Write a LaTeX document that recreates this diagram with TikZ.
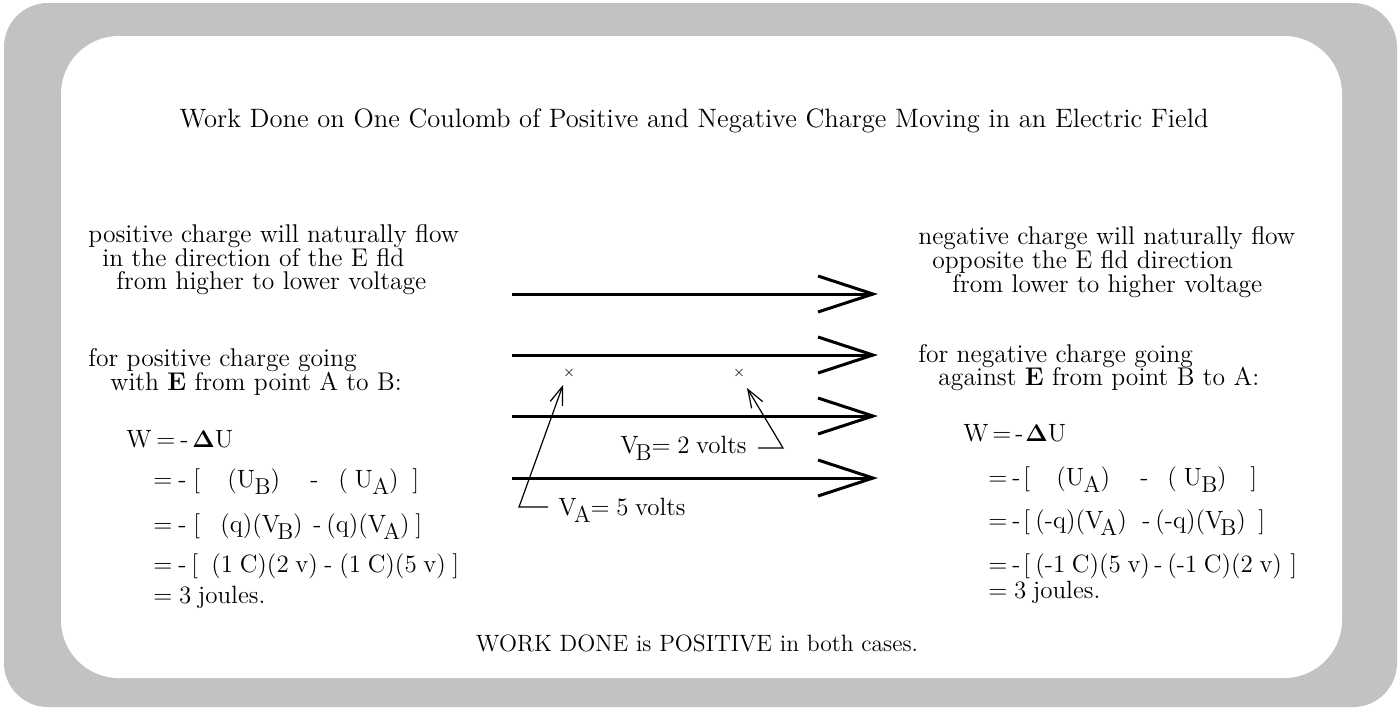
\documentclass[tikz,border=0pt]{standalone}
\usetikzlibrary{arrows.meta,calc}
\newcommand{\lw}[1]{\kern-0.3pt\raisebox{-0.3em}{\fontsize{11.5}{10}\selectfont #1}}
\newcommand{\lv}[1]{\kern-1.5pt\raisebox{-0.3em}{\fontsize{11.5}{10}\selectfont #1}}
\newcommand{\atp}[2]{\makebox[0pt][l]{\hspace*{#1pt}#2}}
\newcommand{\eqfont}{\fontsize{12.5}{11}\selectfont\spaceskip=3.3pt plus 1pt minus 1pt\relax}
\begin{document}
\begin{tikzpicture}[x=0.5pt,y=-0.5pt,
  txt/.style={font=\fontsize{12.8}{11}\selectfont, inner sep=0pt, anchor=base west, text height=8pt, text depth=1.5pt},
  ctxt/.style={txt, anchor=base},
  eq/.style={txt, font=\eqfont},
  fieldline/.style={line width=1.5pt},
  ptr/.style={line width=0.6pt, -{Straight Barb[length=9pt,width=6.5pt]}},
  xmark/.style={font=\fontsize{7}{7}\selectfont, inner sep=0pt},
]
\useasboundingbox (0,0) rectangle (1400,709);
% frame
\fill[black!24, rounded corners=22pt] (4,3) rectangle (1397,707);
\fill[white, rounded corners=29pt] (61,36) rectangle (1342,678);

% title
\node[ctxt, font=\fontsize{13.3}{11}\selectfont] (title) at (694,127) {Work Done on One Coulomb of Positive and Negative Charge Moving in an Electric Field};

% left texts
\node[txt] (p1) at (88,242) {positive charge will naturally flow};
\node[txt] (p2) at (102,266) {in the direction of the E fld};
\node[txt] (p3) at (116,289) {from higher to lower voltage};
\node[txt] (p4) at (88,366) {for positive charge going};
\node[txt] (p5) at (110,390) {with \textbf{E} from point A to B:};

% right texts
\node[txt] (n1) at (918,244) {negative charge will naturally flow};
\node[txt] (n2) at (932,268) {opposite the E fld direction};
\node[txt] (n3) at (952,292) {from lower to higher voltage};
\node[txt] (n4) at (918,362) {for negative charge going};
\node[txt] (n5) at (938,385) {against \textbf{E} from point B to A:};

% left equations
\node[eq] (le1) at (126,447) {\atp{0}{W}\atp{15}{=}\atp{27}{-}\atp{33}{$\mathbf{\Delta}$U}\hspace*{49pt}};
\node[eq] (le2) at (153,487) {\atp{0}{=}\atp{12.5}{-}\atp{20}{[}\atp{37}{(U\lw{B})}\atp{78.5}{-}\atp{92.5}{( U\lw{A})}\atp{129.5}{]}\hspace*{133pt}};
\node[eq] (le3) at (153,532) {\atp{0}{=}\atp{12.5}{-}\atp{20}{[}\atp{33.5}{(q)(V\lv{B})}\atp{80}{-}\atp{86.5}{(q)(V\lv{A})}\atp{131}{]}\hspace*{134pt}};
\node[eq] (le4) at (153,572) {\atp{0}{=}\atp{12.5}{-}\atp{19}{[}\atp{29}{(1 C)(2 v)}\atp{85.5}{-}\atp{93}{(1 C)(5 v)}\atp{149.5}{]}\hspace*{152pt}};
\node[eq] (le5) at (153,603) {= 3 joules.};

% right equations
\node[eq] (re1) at (963,441) {\atp{0}{W}\atp{14.5}{=}\atp{26}{-}\atp{31}{$\mathbf{\Delta}$U}\hspace*{48pt}};
\node[eq] (re2) at (988,485) {\atp{0}{=}\atp{12}{-}\atp{17.5}{[}\atp{34}{(U\lw{A})}\atp{76}{-}\atp{89.5}{( U\lw{B})}\atp{131}{]}\hspace*{134pt}};
\node[eq] (re3) at (988,528) {\atp{0}{=}\atp{12}{-}\atp{17.5}{[}\atp{23.5}{(-q)(V\lv{A})}\atp{77}{-}\atp{83.5}{(-q)(V\lv{B})}\atp{135}{]}\hspace*{138pt}};
\node[eq] (re4) at (988,572) {\atp{0}{=}\atp{12}{-}\atp{17.5}{[}\atp{23.5}{(-1 C)(5 v)}\atp{83}{-}\atp{89.5}{(-1 C)(2 v)}\atp{151}{]}\hspace*{154pt}};
\node[eq] (re5) at (988,598) {= 3 joules.};

% bottom
\node[ctxt, font=\fontsize{11.8}{11}\selectfont] (bottom) at (697,651) {WORK DONE is POSITIVE in both cases.};

% field lines
\foreach \i/\yy in {1/294,2/355,3/416,4/478}{
  \coordinate (s\i) at (512,\yy);
  \coordinate (e\i) at (873,\yy);
  \draw[fieldline] (s\i) -- (e\i);
  \draw[fieldline] ($(e\i)+(-55,-18)$) -- (e\i) -- ($(e\i)+(-55,18)$);
}

% points
\node[xmark] (ptA) at (569,373) {$\times$};
\node[xmark] (ptB) at (739,373) {$\times$};

% labels and pointers
\node[eq] (va) at (558,515) {V\lv{A}= 5 volts};
\node[eq, anchor=base east] (vb) at (747,453) {V\lv{B}= 2 volts};
\coordinate (sA) at (548,507);
\coordinate (cA) at (519,507);
\coordinate (tA) at (563,385);
\coordinate (sB) at (758,448);
\coordinate (cB) at (783,448);
\coordinate (tB) at (747,388);
\draw[ptr] (sA) -- (cA) -- (tA);
\draw[ptr] (sB) -- (cB) -- (tB);
\end{tikzpicture}
\end{document}
